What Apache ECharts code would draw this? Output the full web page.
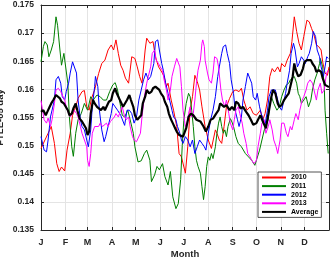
<!DOCTYPE html>
<html><head><meta charset="utf-8">
<script src="https://cdn.jsdelivr.net/npm/echarts@6/dist/echarts.min.js"></script>
<style>html,body{margin:0;padding:0;background:#fff}#c{width:332px;height:260px}</style>
</head><body><div id="c"></div>
<script>
const monthStarts = [0,31,59,90,120,151,181,212,243,273,304,334];
const monthLabels = ['J','F','M','A','M','J','J','A','S','O','N','D'];
const seriesNames = ['2010','2011','2012','2013','Average'];

const s2010 = [[0,.1495],[5,.1510],[9,.1522],[13,.1534],[17,.1504],[20,.1468],[23,.1454],[26,.1462],[30,.1455],[33,.1492],[37,.1522],[40,.1554],[44,.1569],[47,.1584],[52,.1596],[55,.1598],[58,.1569],[61,.1563],[64,.1584],[68,.1599],[73,.1628],[77,.1646],[81,.1652],[85,.1670],[89,.1679],[92,.1670],[95,.1688],[98,.1664],[101,.1643],[104,.1634],[107,.1620],[111,.1611],[115,.1658],[119,.1655],[122,.1640],[125,.1623],[128,.1611],[132,.1670],[134,.1691],[138,.1682],[142,.1685],[145,.1658],[149,.1640],[153,.1631],[156,.1623],[159,.1605],[161,.1611],[165,.1581],[168,.1563],[172,.1534],[175,.1486],[178,.1480],[183,.1451],[186,.1498],[189,.1563],[192,.1587],[195,.1625],[198,.1614],[201,.1599],[204,.1569],[208,.1534],[212,.1510],[216,.1495],[221,.1528],[223,.1522],[226,.1510],[229,.1504],[232,.1534],[235,.1569],[239,.1584],[243,.1596],[247,.1599],[251,.1596],[254,.1602],[257,.1581],[261,.1563],[265,.1569],[269,.1557],[273,.1554],[278,.1563],[281,.1546],[284,.1557],[287,.1581],[290,.1623],[293,.1637],[296,.1631],[300,.1640],[303,.1631],[305,.1646],[309,.1640],[312,.1652],[316,.1664],[318,.1685],[321,.1729],[324,.1703],[327,.1682],[330,.1670],[333,.1694],[337,.1723],[340,.1720],[343,.1708],[346,.1697],[349,.1679],[352,.1676],[355,.1670],[357,.1649],[360,.1629],[363,.1625],[365,.1640]];

const s2011 = [[0,.1649],[3,.1676],[5,.1685],[8,.1679],[10,.1658],[13,.1670],[16,.1685],[19,.1729],[21,.1714],[24,.1670],[26,.1643],[29,.1664],[31,.1661],[34,.1611],[36,.1551],[39,.1498],[41,.1481],[44,.1522],[47,.1546],[51,.1557],[55,.1575],[59,.1563],[63,.1587],[66,.1581],[71,.1590],[75,.1587],[79,.1581],[83,.1581],[87,.1596],[91,.1608],[94,.1612],[97,.1599],[101,.1569],[103,.1554],[106,.1551],[110,.1563],[113,.1546],[117,.1522],[119,.1498],[123,.1471],[127,.1473],[131,.1486],[134,.1492],[138,.1474],[140,.1436],[144,.1448],[147,.1463],[150,.1457],[154,.1468],[157,.1445],[161,.1430],[164,.1454],[167,.1409],[171,.1388],[174,.1397],[177,.1440],[179,.1500],[181,.1545],[184,.1575],[187,.1593],[189,.1587],[191,.1563],[193,.1534],[195,.1498],[197,.1474],[199,.1463],[202,.1451],[204,.1427],[206,.1404],[208,.1427],[210,.1463],[212,.1480],[214,.1474],[216,.1486],[218,.1477],[221,.1498],[223,.1522],[225,.1540],[227,.1551],[229,.1534],[231,.1522],[233,.1528],[235,.1516],[237,.1534],[240,.1548],[242,.1542],[244,.1534],[247,.1516],[250,.1504],[254,.1498],[259,.1486],[263,.1480],[267,.1474],[271,.1465],[273,.1474],[277,.1492],[280,.1510],[283,.1528],[285,.1525],[288,.1546],[290,.1575],[292,.1587],[295,.1575],[299,.1563],[302,.1569],[305,.1587],[308,.1599],[311,.1608],[314,.1611],[316,.1617],[318,.1620],[321,.1623],[324,.1611],[326,.1593],[328,.1587],[330,.1575],[333,.1581],[336,.1587],[339,.1569],[342,.1581],[344,.1599],[347,.1617],[350,.1629],[353,.1646],[354,.1655],[357,.1640],[359,.1605],[360,.1563],[362,.1522],[364,.1486]];

const s2012 = [[0,.1516],[2,.1519],[4,.1492],[7,.1489],[9,.1510],[12,.1551],[14,.1554],[17,.1581],[19,.1617],[22,.1623],[25,.1611],[27,.1587],[30,.1581],[32,.1596],[35,.1611],[37,.1629],[40,.1649],[42,.1652],[45,.1629],[47,.1581],[50,.1546],[52,.1534],[55,.1528],[58,.1510],[60,.1498],[63,.1528],[65,.1569],[68,.1605],[69,.1623],[72,.1605],[74,.1563],[77,.1528],[80,.1507],[82,.1516],[85,.1534],[89,.1557],[91,.1575],[94,.1569],[97,.1563],[101,.1554],[103,.1551],[106,.1536],[109,.1563],[112,.1563],[115,.1557],[118,.1540],[121,.1551],[124,.1581],[127,.1599],[130,.1617],[133,.1629],[136,.1617],[139,.1623],[143,.1646],[145,.1685],[148,.1688],[150,.1670],[153,.1646],[155,.1634],[158,.1611],[161,.1593],[163,.1581],[166,.1563],[168,.1551],[171,.1546],[173,.1534],[176,.1522],[178,.1510],[180,.1504],[183,.1516],[186,.1510],[189,.1498],[192,.1510],[195,.1486],[198,.1498],[201,.1510],[204,.1504],[207,.1498],[209,.1492],[212,.1522],[215,.1546],[218,.1563],[221,.1587],[224,.1623],[226,.1640],[229,.1664],[231,.1676],[234,.1679],[236,.1664],[239,.1646],[241,.1617],[244,.1593],[246,.1563],[249,.1546],[251,.1534],[254,.1551],[256,.1581],[259,.1605],[262,.1629],[264,.1632],[267,.1611],[269,.1587],[272,.1581],[274,.1593],[277,.1569],[279,.1557],[282,.1546],[284,.1537],[287,.1563],[289,.1587],[292,.1599],[294,.1602],[297,.1599],[300,.1581],[302,.1569],[305,.1563],[307,.1575],[310,.1593],[312,.1611],[315,.1634],[317,.1664],[320,.1682],[322,.1670],[325,.1640],[327,.1646],[330,.1658],[333,.1652],[335,.1646],[338,.1658],[340,.1664],[343,.1682],[345,.1703],[348,.1694],[350,.1670],[353,.1658],[355,.1640],[358,.1623],[360,.1640],[362,.1658],[364,.1655]];

const s2013 = [[0,.1580],[2,.1563],[4,.1546],[7,.1540],[9,.1549],[12,.1534],[14,.1546],[17,.1575],[19,.1599],[22,.1602],[25,.1596],[27,.1593],[30,.1581],[32,.1569],[35,.1557],[37,.1551],[40,.1557],[42,.1563],[45,.1557],[47,.1551],[50,.1534],[52,.1522],[55,.1510],[58,.1498],[59,.1474],[61,.1463],[63,.1486],[65,.1522],[68,.1534],[70,.1537],[73,.1534],[75,.1540],[78,.1534],[80,.1534],[83,.1540],[85,.1534],[88,.1543],[90,.1540],[93,.1551],[95,.1557],[98,.1551],[101,.1563],[103,.1569],[106,.1551],[108,.1546],[111,.1551],[113,.1534],[116,.1516],[118,.1510],[121,.1507],[123,.1504],[126,.1522],[128,.1551],[131,.1587],[134,.1611],[136,.1623],[139,.1640],[141,.1664],[144,.1670],[146,.1652],[149,.1646],[151,.1640],[154,.1634],[156,.1617],[159,.1599],[161,.1581],[164,.1599],[166,.1623],[169,.1640],[172,.1655],[174,.1658],[176,.1640],[178,.1605],[180,.1563],[183,.1534],[185,.1540],[187,.1557],[189,.1569],[191,.1551],[193,.1557],[195,.1581],[197,.1611],[199,.1634],[202,.1652],[204,.1682],[205,.1688],[207,.1676],[208,.1652],[211,.1629],[213,.1617],[216,.1611],[218,.1629],[220,.1658],[223,.1655],[225,.1640],[228,.1599],[230,.1581],[233,.1569],[235,.1581],[238,.1557],[240,.1540],[243,.1528],[245,.1546],[247,.1563],[250,.1569],[252,.1557],[255,.1540],[257,.1522],[260,.1504],[262,.1486],[265,.1480],[267,.1474],[270,.1468],[273,.1474],[275,.1498],[278,.1522],[280,.1540],[283,.1546],[285,.1522],[288,.1534],[290,.1546],[293,.1528],[295,.1510],[298,.1498],[300,.1486],[303,.1510],[305,.1540],[308,.1540],[311,.1522],[313,.1516],[316,.1534],[318,.1528],[321,.1546],[323,.1557],[326,.1546],[328,.1563],[331,.1581],[333,.1587],[336,.1599],[338,.1611],[341,.1617],[344,.1611],[346,.1599],[349,.1581],[351,.1599],[354,.1611],[356,.1593],[359,.1599],[360,.1611],[362,.1629],[364,.1634]];

const sAverage = [[0,.1560],[3,.1563],[6,.1554],[8,.1560],[11,.1569],[13,.1575],[16,.1582],[19,.1590],[21,.1591],[24,.1584],[26,.1578],[29,.1575],[31,.1572],[34,.1563],[36,.1554],[39,.1557],[41,.1566],[44,.1575],[46,.1563],[49,.1548],[52,.1543],[54,.1540],[57,.1531],[59,.1519],[61,.1525],[63,.1557],[66,.1581],[68,.1575],[71,.1569],[73,.1566],[76,.1563],[79,.1569],[81,.1563],[83,.1569],[86,.1578],[89,.1581],[91,.1593],[94,.1602],[96,.1593],[99,.1584],[101,.1578],[104,.1569],[106,.1572],[109,.1581],[112,.1590],[114,.1581],[117,.1569],[119,.1554],[122,.1546],[124,.1546],[127,.1554],[129,.1575],[132,.1587],[134,.1599],[137,.1593],[140,.1596],[142,.1602],[145,.1605],[147,.1604],[150,.1599],[152,.1593],[155,.1587],[157,.1578],[160,.1569],[162,.1557],[165,.1546],[167,.1540],[170,.1531],[172,.1525],[175,.1519],[177,.1516],[180,.1516],[184,.1531],[187,.1551],[190,.1557],[193,.1554],[197,.1546],[199,.1546],[202,.1543],[206,.1534],[209,.1525],[212,.1534],[215,.1546],[218,.1548],[222,.1557],[225,.1563],[227,.1575],[229,.1572],[232,.1569],[235,.1572],[239,.1563],[242,.1569],[245,.1563],[247,.1578],[250,.1575],[253,.1566],[256,.1569],[260,.1560],[263,.1554],[266,.1546],[269,.1537],[273,.1540],[275,.1546],[278,.1554],[282,.1540],[285,.1531],[287,.1531],[289,.1563],[292,.1587],[294,.1599],[297,.1593],[300,.1575],[302,.1569],[305,.1572],[308,.1581],[311,.1587],[314,.1593],[316,.1605],[319,.1623],[321,.1646],[323,.1634],[326,.1623],[329,.1626],[332,.1637],[334,.1649],[337,.1652],[339,.1655],[342,.1652],[344,.1646],[347,.1640],[349,.1631],[352,.1634],[355,.1631],[357,.1620],[360,.1608],[362,.1605],[365,.1604]];

const seriesData = [s2010, s2011, s2012, s2013, sAverage];
const colors = ['#ff0000', '#007f00', '#0000ff', '#ff00ff', '#000000'];
const widths = [1, 1, 1, 1, 2.2];

const days = Array.from({length: 366}, (_, i) => String(i));
const labelAt = {};
monthStarts.forEach((d, i) => { labelAt[d] = monthLabels[i]; });
const isTick = (i) => (i in labelAt) || i === 365;

const axisColor = '#262626';
const gridColor = '#e4e4e4';
const font = 'Liberation Sans, Arial, Helvetica, sans-serif';

const chart = echarts.init(document.getElementById('c'), null, {renderer: 'canvas'});
chart.setOption({
  animation: false,
  backgroundColor: '#fff',
  grid: {left: 41, right: 3, top: 5, bottom: 30, outerBoundsMode: 'none'},
  xAxis: [{
    type: 'category', data: days, boundaryGap: false, position: 'bottom',
    name: 'Month', nameLocation: 'middle', nameGap: 19, nameMoveOverlap: false,
    nameTextStyle: {fontFamily: font, fontWeight: 'bold', fontSize: 9.5, color: axisColor},
    axisLine: {lineStyle: {color: axisColor, width: 1}},
    axisTick: {inside: true, length: 3, interval: (i) => isTick(i), lineStyle: {color: axisColor}},
    axisLabel: {interval: (i) => (i in labelAt), formatter: (v) => labelAt[+v] || '',
      fontFamily: font, fontWeight: 'bold', fontSize: 9, color: axisColor, margin: 8},
    splitLine: {show: true, interval: (i) => (i in labelAt) && i > 0, lineStyle: {color: gridColor, width: 1}}
  }, {
    type: 'category', data: days, boundaryGap: false, position: 'top',
    axisLine: {lineStyle: {color: axisColor, width: 1}},
    axisTick: {inside: true, length: 3, interval: (i) => isTick(i), lineStyle: {color: axisColor}},
    axisLabel: {show: false}, splitLine: {show: false}
  }],
  yAxis: [{
    type: 'value', min: 0.135, max: 0.175, interval: 0.005, position: 'left',
    name: 'FTLE-05 day', nameLocation: 'middle', nameGap: 36, nameMoveOverlap: false,
    nameTextStyle: {fontFamily: font, fontWeight: 'bold', fontSize: 9.5, color: axisColor},
    axisLine: {show: true, lineStyle: {color: axisColor, width: 1}},
    axisTick: {show: true, inside: true, length: 3, lineStyle: {color: axisColor}},
    axisLabel: {formatter: (v) => String(Number(v.toFixed(3))),
      fontFamily: font, fontWeight: 'bold', fontSize: 8.5, color: axisColor, margin: 7},
    splitLine: {show: true, lineStyle: {color: gridColor, width: 1}}
  }, {
    type: 'value', min: 0.135, max: 0.175, interval: 0.005, position: 'right',
    axisLine: {show: true, lineStyle: {color: axisColor, width: 1}},
    axisTick: {show: true, inside: true, length: 3, lineStyle: {color: axisColor}},
    axisLabel: {show: false}, splitLine: {show: false}
  }],
  legend: {
    orient: 'vertical', left: 258, top: 172,
    itemWidth: 24, itemHeight: 8, itemGap: 1.6,
    padding: [2, 3, 2, 3],
    itemStyle: {opacity: 0},
    borderColor: axisColor, borderWidth: 0.8, backgroundColor: '#fff',
    textStyle: {fontFamily: font, fontWeight: 'bold', fontSize: 7, color: '#000'},
    data: seriesNames
  },
  series: seriesNames.map((name, k) => ({
    name: name, type: 'line', xAxisIndex: 0, yAxisIndex: 0,
    data: seriesData[k], symbol: 'none', showSymbol: false,
    lineStyle: {color: colors[k], width: widths[k]},
    itemStyle: {color: colors[k]},
    z: k === 4 ? 5 : 2
  }))
});
</script></body></html>
